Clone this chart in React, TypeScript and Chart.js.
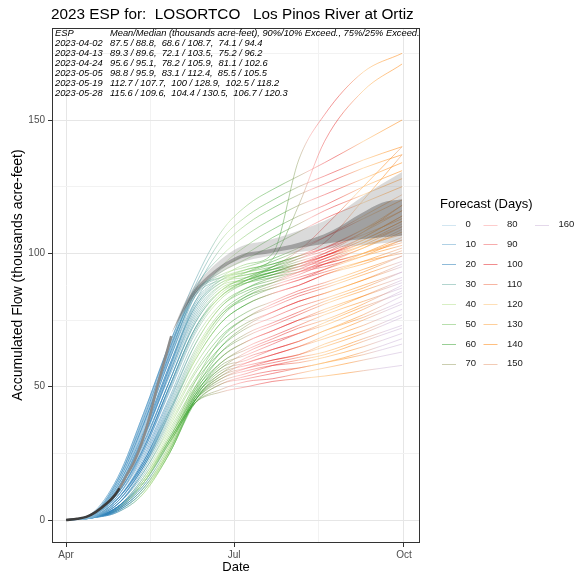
import React, { useEffect, useRef } from 'react';
import { Chart, registerables } from 'chart.js';

Chart.register(...registerables);

const FONT = '"Liberation Sans", Arial, Helvetica, sans-serif';

const TITLE = '2023 ESP for:  LOSORTCO   Los Pinos River at Ortiz';
const X_TITLE = 'Date';
const Y_TITLE = 'Accumulated Flow (thousands acre-feet)';
const LEGEND_TITLE = 'Forecast (Days)';

// x is days since Apr 1
const X_MIN = -7.6;
const X_MAX = 191.7;
const X_TICK_VALUES = [0, 91, 183];
const X_TICK_LABELS = ['Apr', 'Jul', 'Oct'];
const X_MINOR = [45.5, 137];
const Y_TICK_VALUES = [0, 50, 100, 150];
const Y_MINOR = [25, 75, 125, 175];

const ESP_HEADER = ['ESP', 'Mean/Median (thousands acre-feet), 90%/10% Exceed., 75%/25% Exceed.'];
const ESP_DATES = ['2023-04-02', '2023-04-13', '2023-04-24', '2023-05-05', '2023-05-19', '2023-05-28'];
const ESP_MEAN_MEDIAN = ['87.5 / 88.8', '89.3 / 89.6', '95.6 / 95.1', '98.8 / 95.9', '112.7 / 107.7', '115.6 / 109.6'];
const ESP_90_10 = ['68.6 / 108.7', '72.1 / 103.5', '78.2 / 105.9', '83.1 / 112.4', '100 / 128.9', '104.4 / 130.5'];
const ESP_75_25 = ['74.1 / 94.4', '75.2 / 96.2', '81.1 / 102.6', '85.5 / 105.5', '102.5 / 118.2', '106.7 / 120.3'];

const FORECAST_DAYS = [0, 10, 20, 30, 40, 50, 60, 70, 80, 90, 100, 110, 120, 130, 140, 150, 160];
const FORECAST_COLORS = ['#A6CEE3', '#62A3CB', '#1F78B4', '#68AB9F', '#B2DF8A', '#72BF5B', '#33A02C', '#979D62',
  '#FB9A99', '#EF5A5A', '#E31A1C', '#F06C45', '#FDBF6F', '#FE9F37', '#FF7F00', '#E5986B', '#CAB2D6'];

// trace sample days (days since Apr 1)
const TRACE_DAYS = [0, 14, 28, 42, 56, 70, 84, 98, 112, 126, 140, 161, 182];

const UPPER_TRACES = [
  [0, 2.5, 16, 40, 66, 86, 91, 93, 95, 98, 101, 108, 116],
  [0, 2, 14, 36, 62, 84, 90, 92, 94, 96, 99, 105, 112],
  [0, 2, 13, 33, 58, 80, 89, 91, 93, 95, 97, 102, 108],
  [0, 1.5, 11, 30, 55, 78, 88, 90, 92, 94, 96, 100, 105],
  [0, 1.5, 10, 28, 52, 75, 86, 89, 91, 93, 95, 99, 103],
  [0, 2, 12, 32, 57, 81, 90, 93, 96, 99, 102, 109, 118],
  [0, 2, 15, 38, 64, 85, 92, 95, 98, 102, 106, 113, 120],
  [0, 1.8, 12, 31, 54, 76, 87, 90, 93, 96, 99, 104, 110],
  [0, 2.2, 15, 39, 65, 85, 91, 94, 96, 99, 102, 107, 113],
  [0, 1.7, 11, 31, 56, 79, 89, 92, 94, 97, 100, 106, 114],
];

const HIGH_TRACES = [
  [0, 2, 13, 34, 60, 82, 91, 96, 100, 135, 152, 168, 175],
  [0, 2, 12, 32, 57, 80, 90, 94, 98, 118, 142, 161, 171],
  [0, 2.5, 16, 40, 66, 90, 108, 118, 124, 129, 134, 142, 150],
  [0, 2, 15, 38, 64, 88, 105, 114, 120, 125, 129, 135, 140],
  [0, 2, 14, 36, 62, 86, 102, 111, 117, 122, 126, 132, 137],
  [0, 2, 15, 37, 63, 87, 99, 107, 113, 118, 122, 128, 134],
  [0, 2, 13, 33, 58, 82, 95, 103, 109, 114, 118, 125, 131],
  [0, 2, 13, 35, 60, 84, 94, 100, 106, 111, 116, 122, 128],
  [0, 2, 14, 36, 61, 85, 93, 98, 103, 108, 113, 119, 125],
  [0, 1.5, 10, 27, 50, 72, 84, 90, 95, 101, 110, 125, 140],
  [0, 1.5, 11, 29, 52, 74, 86, 91, 95, 99, 104, 120, 137],
];

const MIDDLE_TRACES = [
  [0, 2, 12, 31, 55, 77, 88, 93, 97, 101, 106, 114, 122],
  [0, 1.5, 11, 29, 52, 74, 86, 91, 94, 98, 102, 109, 116],
  [0, 1.5, 10, 26, 48, 70, 83, 89, 92, 95, 99, 105, 112],
  [0, 1.5, 9, 24, 45, 66, 80, 86, 89, 92, 96, 102, 109],
  [0, 1.5, 10, 27, 50, 72, 84, 89, 92, 95, 98, 103, 107],
  [0, 1, 8, 22, 42, 63, 77, 83, 87, 90, 94, 100, 106],
  [0, 1.5, 9, 25, 46, 68, 81, 87, 90, 93, 96, 100, 104],
  [0, 1, 8, 21, 40, 60, 74, 81, 85, 88, 92, 97, 102],
  [0, 1.5, 9, 26, 49, 71, 84, 90, 93, 96, 99, 106, 114],
  [0, 1.2, 8, 23, 44, 66, 80, 87, 91, 94, 98, 104, 111],
  [0, 1.2, 8, 22, 43, 64, 78, 85, 89, 93, 97, 103, 110],
  [0, 1, 7, 20, 40, 61, 76, 84, 88, 91, 94, 99, 105],
  [0, 1, 7, 21, 41, 62, 77, 84, 87, 90, 93, 97, 100],
  [0, 1.5, 10, 27, 50, 72, 85, 90, 93, 96, 100, 108, 118],
];

const LOWER_TRACES = [
  [0, 1.2, 8, 22, 41, 60, 74, 81, 85, 88, 92, 96, 101],
  [0, 1.2, 8, 21, 39, 58, 71, 78, 82, 86, 89, 94, 99],
  [0, 1, 7, 20, 38, 56, 69, 76, 80, 84, 87, 92, 97],
  [0, 1, 7, 20, 37, 55, 67, 74, 78, 82, 85, 90, 95],
  [0, 1, 6, 19, 36, 53, 65, 72, 76, 80, 83, 88, 93],
  [0, 1, 6, 18, 35, 52, 63, 69, 73, 77, 81, 86, 91],
  [0, 1, 6, 18, 34, 50, 61, 67, 71, 75, 79, 84, 89],
  [0, 1, 6, 17, 33, 49, 59, 65, 69, 73, 77, 82, 87],
  [0, 1, 5, 16, 32, 48, 57, 63, 67, 70, 74, 80, 85],
  [0, 1, 5, 16, 31, 47, 55, 61, 64, 67, 71, 76, 82],
  [0, 1, 5, 15, 31, 46, 54, 59, 62, 65, 68, 73, 79],
  [0, 1, 5, 15, 30, 45, 53, 57, 60, 62, 65, 70, 76],
  [0, 1, 4.5, 15, 30, 45, 52, 55, 58, 60, 62, 67, 72],
  [0, 1, 4.5, 14, 29, 44, 51, 53, 55, 57, 59, 63, 68],
  [0, 1, 4, 14, 29, 44, 49, 52, 53, 55, 57, 60, 63],
  [0, 1, 4, 14, 30, 44, 48, 50, 52, 53, 54, 56, 58],
];

const LATE_TRACES = [
  [0, 0.8, 5, 14, 30, 52, 68, 76, 81, 85, 88, 93, 99],
  [0, 0.8, 5, 14, 29, 50, 65, 73, 78, 82, 85, 90, 96],
  [0, 0.8, 4.5, 13, 28, 49, 63, 70, 74, 78, 82, 87, 93],
  [0, 0.8, 4.5, 13, 28, 48, 61, 67, 71, 75, 78, 84, 90],
  [0, 0.8, 4, 12, 27, 47, 59, 64, 68, 72, 75, 81, 88],
  [0, 0.8, 4, 12, 27, 47, 58, 62, 66, 70, 73, 79, 86],
  [0, 0.8, 4, 12, 26, 46, 57, 60, 64, 67, 71, 77, 84],
  [0, 0.8, 3.5, 11, 26, 46, 56, 59, 62, 65, 69, 75, 81],
  [0, 0.8, 3.5, 11, 26, 45, 55, 58, 60, 62, 66, 71, 77],
  [0, 0.8, 3.5, 11, 25, 45, 54, 57, 59, 61, 63, 68, 73],
  [0, 0.8, 3, 10, 25, 45, 53, 56, 58, 59, 61, 65, 70],
  [0, 0.8, 3, 10, 25, 44, 51, 54, 56, 57, 59, 62, 66],
];

// percentile ribbons of the latest forecast
const BAND_DAYS = [57, 66, 75, 93, 110, 126, 144, 160, 171, 182];
const BAND_P10 = [70, 84, 92, 102, 105, 108.5, 113.5, 121, 126, 130.5];
const BAND_P90 = [70, 80, 88, 96, 99, 100.5, 102, 103, 103.8, 104.4];
const BAND_P25 = [70, 83, 90.5, 99, 101.5, 104, 108.5, 115, 119, 120.3];
const BAND_P75 = [70, 81, 89, 97.5, 100, 102, 104, 105.3, 106, 106.7];

// observed accumulated flow
const OBS_DAYS = [0, 6, 11, 16, 22, 26, 29, 33, 37, 41, 45, 49, 53, 57];
const OBS_VALUES = [0, 0.5, 1.2, 3, 6.2, 9, 12, 17, 22, 29, 38, 49, 59, 69];
const OBS_SPLIT_DAY = 29;

// colour timeline (day at which each forecast-day colour is reached) for early-peaking and late-peaking traces
const COLOR_DAY_EARLY = [0, 25, 55, 78, 88, 100, 115, 126, 132, 138, 146, 154, 161, 168, 176, 190, 205];
const COLOR_DAY_LATE = [0, 10, 22, 32, 40, 52, 66, 80, 90, 100, 112, 124, 134, 144, 152, 160, 170];

function rgba(hex: string, a: number) {
  const r = parseInt(hex.slice(1, 3), 16), g = parseInt(hex.slice(3, 5), 16), b = parseInt(hex.slice(5, 7), 16);
  return `rgba(${r},${g},${b},${a})`;
}

function traceGradient(chart: any, late: number) {
  const ca = chart.chartArea;
  const a = 0.62;
  const fallback = rgba(FORECAST_COLORS[8], a);
  if (!ca) return fallback;
  const w = ca.right - ca.left;
  const x0 = ca.left + ((0 - X_MIN) / (X_MAX - X_MIN)) * w;
  const x1 = ca.left + ((182 - X_MIN) / (X_MAX - X_MIN)) * w;
  if (!isFinite(x0) || !isFinite(x1) || !(x1 > x0)) return fallback;
  const g = chart.ctx.createLinearGradient(x0, 0, x1, 0);
  let lastIdx = 0;
  FORECAST_COLORS.forEach((c, b) => {
    const d = COLOR_DAY_EARLY[b] * (1 - late) + COLOR_DAY_LATE[b] * late;
    if (d <= 182) {
      g.addColorStop(Math.max(0, d / 182), rgba(c, a));
      lastIdx = b;
    }
  });
  if (lastIdx < FORECAST_COLORS.length - 1) {
    const dn = COLOR_DAY_EARLY[lastIdx + 1] * (1 - late) + COLOR_DAY_LATE[lastIdx + 1] * late;
    const d0 = COLOR_DAY_EARLY[lastIdx] * (1 - late) + COLOR_DAY_LATE[lastIdx] * late;
    if (dn - d0 > 0 && (182 - d0) / (dn - d0) > 0.5) g.addColorStop(1, rgba(FORECAST_COLORS[lastIdx + 1], a));
  }
  return g;
}

const overlayPlugin = {
  id: 'ggOverlay',
  afterDraw(chart: any) {
    const ctx = chart.ctx;
    const ca = chart.chartArea;
    ctx.save();
    // panel border
    ctx.strokeStyle = '#333333';
    ctx.lineWidth = 1;
    ctx.strokeRect(Math.round(ca.left) + 0.5, Math.round(ca.top) + 0.5, Math.round(ca.right - ca.left) - 1, Math.round(ca.bottom - ca.top) - 1);

    // title
    ctx.fillStyle = '#000';
    ctx.textBaseline = 'alphabetic';
    ctx.textAlign = 'left';
    ctx.font = `15.3px ${FONT}`;
    ctx.fillText(TITLE, ca.left - 1, 18.5);

    // ESP text table
    ctx.font = `italic 9.3px ${FONT}`;
    const rows = [[ESP_HEADER[0], ESP_HEADER[1]]].concat(
      ESP_DATES.map((d, i) => [d, `${ESP_MEAN_MEDIAN[i]},  ${ESP_90_10[i]},  ${ESP_75_25[i]}`])
    );
    rows.forEach((r, i) => {
      const y = 35.6 + i * 10.03;
      ctx.fillText(r[0], ca.left + 3, y);
      ctx.fillText(r[1], ca.left + 58, y);
    });

    // y axis title
    ctx.save();
    ctx.translate(18, 275);
    ctx.rotate(-Math.PI / 2);
    ctx.textAlign = 'center';
    ctx.textBaseline = 'middle';
    ctx.font = `14px ${FONT}`;
    ctx.fillText(Y_TITLE, 0, 0);
    ctx.restore();

    // legend
    ctx.textBaseline = 'middle';
    ctx.textAlign = 'left';
    ctx.font = `13px ${FONT}`;
    ctx.fillText(LEGEND_TITLE, 440, 204);
    const colX = [442, 483.5, 535];
    ctx.font = `9.5px ${FONT}`;
    FORECAST_DAYS.forEach((d, i) => {
      const col = Math.floor(i / 8);
      const row = i % 8;
      const lx = colX[col];
      const y = 224.5 + row * 19.9;
      ctx.strokeStyle = rgba(FORECAST_COLORS[i], 0.5);
      ctx.lineWidth = 1;
      ctx.beginPath();
      ctx.moveTo(lx, Math.round(y) + 0.5);
      ctx.lineTo(lx + 14, Math.round(y) + 0.5);
      ctx.stroke();
      ctx.fillStyle = '#1a1a1a';
      ctx.fillText(String(d), lx + 23.5, y);
    });
    ctx.restore();
  },
};

export default function App() {
  const ref = useRef<HTMLCanvasElement | null>(null);

  useEffect(() => {
    if (!ref.current) return;
    const allTraces = [...UPPER_TRACES, ...HIGH_TRACES, ...MIDDLE_TRACES, ...LOWER_TRACES, ...LATE_TRACES];

    const traceSets = allTraces.map((vals) => {
      const v84 = vals[TRACE_DAYS.indexOf(84)];
      const late = Math.max(0, Math.min(1, (90 - v84) / 40));
      return {
        type: 'line',
        data: TRACE_DAYS.map((d, i) => ({ x: d, y: vals[i] })),
        borderColor: (c: any) => traceGradient(c.chart, late),
        borderWidth: 0.8,
        pointRadius: 0,
        cubicInterpolationMode: 'monotone',
        fill: false,
        order: 3,
      };
    });

    const obs = {
      type: 'line',
      data: OBS_DAYS.map((d, i) => ({ x: d, y: OBS_VALUES[i] })),
      borderWidth: 2.6,
      borderColor: '#8c8c8c',
      segment: {
        borderColor: (c: any) => (c.p0.parsed.x < OBS_SPLIT_DAY ? '#3d3d3d' : '#8c8c8c'),
      },
      pointRadius: 0,
      cubicInterpolationMode: 'monotone',
      fill: false,
      order: 0,
    };

    const mk = (vals: number[]) => BAND_DAYS.map((d, i) => ({ x: d, y: vals[i] }));
    // indices: 0 obs, 1 darkLo, 2 darkHi, 3 lightLo, 4 lightHi, then traces
    const darkLo = { type: 'line', data: mk(BAND_P75), borderWidth: 0, borderColor: 'rgba(0,0,0,0)', pointRadius: 0, fill: false, cubicInterpolationMode: 'monotone', order: 1 };
    const darkHi = { type: 'line', data: mk(BAND_P25), borderWidth: 0, borderColor: 'rgba(0,0,0,0)', pointRadius: 0, fill: { target: 1 }, backgroundColor: 'rgba(80,80,80,0.42)', cubicInterpolationMode: 'monotone', order: 1 };
    const lightLo = { type: 'line', data: mk(BAND_P90), borderWidth: 0, borderColor: 'rgba(0,0,0,0)', pointRadius: 0, fill: false, cubicInterpolationMode: 'monotone', order: 2 };
    const lightHi = { type: 'line', data: mk(BAND_P10), borderWidth: 0, borderColor: 'rgba(0,0,0,0)', pointRadius: 0, fill: { target: 3 }, backgroundColor: 'rgba(150,150,150,0.35)', cubicInterpolationMode: 'monotone', order: 2 };

    const isIn = (arr: number[], v: number) => arr.some((a) => Math.abs(a - v) < 1e-6);

    const chart = new Chart(ref.current, {
      type: 'line',
      data: { datasets: [obs, darkLo, darkHi, lightLo, lightHi, ...traceSets] as any },
      plugins: [overlayPlugin],
      options: {
        animation: false,
        responsive: false,
        events: [],
        layout: { padding: { top: 28, right: 163, left: 0, bottom: 0 } },
        plugins: { legend: { display: false }, tooltip: { enabled: false }, title: { display: false } },
        scales: {
          x: {
            type: 'linear',
            min: X_MIN,
            max: X_MAX,
            afterBuildTicks: (s: any) => {
              s.ticks = [...X_TICK_VALUES, ...X_MINOR].sort((a, b) => a - b).map((v) => ({ value: v }));
            },
            afterFit: (s: any) => { s.height = 35; },
            ticks: {
              autoSkip: false,
              maxRotation: 0,
              padding: 2,
              color: '#4d4d4d',
              font: { family: FONT, size: 10 },
              callback: (v: any) => {
                const i = X_TICK_VALUES.indexOf(Number(v));
                return i >= 0 ? X_TICK_LABELS[i] : '';
              },
            },
            grid: {
              color: (c: any) => (isIn(X_TICK_VALUES, c.tick?.value) ? '#e6e6e6' : '#f2f2f2'),
              lineWidth: 1,
              tickLength: 4,
              tickColor: (c: any) => (isIn(X_TICK_VALUES, c.tick?.value) ? '#333333' : 'rgba(0,0,0,0)'),
            },
            border: { display: false },
            title: { display: true, text: X_TITLE, color: '#000', font: { family: FONT, size: 13 }, padding: { top: 0, bottom: 3 } },
          },
          y: {
            type: 'linear',
            min: -8.6,
            max: 184.5,
            afterBuildTicks: (s: any) => {
              s.ticks = [...Y_TICK_VALUES, ...Y_MINOR].sort((a, b) => a - b).map((v) => ({ value: v }));
            },
            afterFit: (s: any) => { s.width = 52; },
            ticks: {
              autoSkip: false,
              padding: 3,
              color: '#4d4d4d',
              font: { family: FONT, size: 10 },
              callback: (v: any) => (Y_TICK_VALUES.includes(Number(v)) ? String(v) : ''),
            },
            grid: {
              color: (c: any) => (isIn(Y_TICK_VALUES, c.tick?.value) ? '#e6e6e6' : '#f2f2f2'),
              lineWidth: 1,
              tickLength: 4,
              tickColor: (c: any) => (isIn(Y_TICK_VALUES, c.tick?.value) ? '#333333' : 'rgba(0,0,0,0)'),
            },
            border: { display: false },
            title: { display: false },
          },
        },
      } as any,
    });
    return () => chart.destroy();
  }, []);

  return (
    <div style={{ position: 'fixed', left: 0, top: 0, width: 583, height: 578, background: '#fff' }}>
      <canvas ref={ref} width={583} height={578} style={{ display: 'block', width: 583, height: 578 }} />
    </div>
  );
}
